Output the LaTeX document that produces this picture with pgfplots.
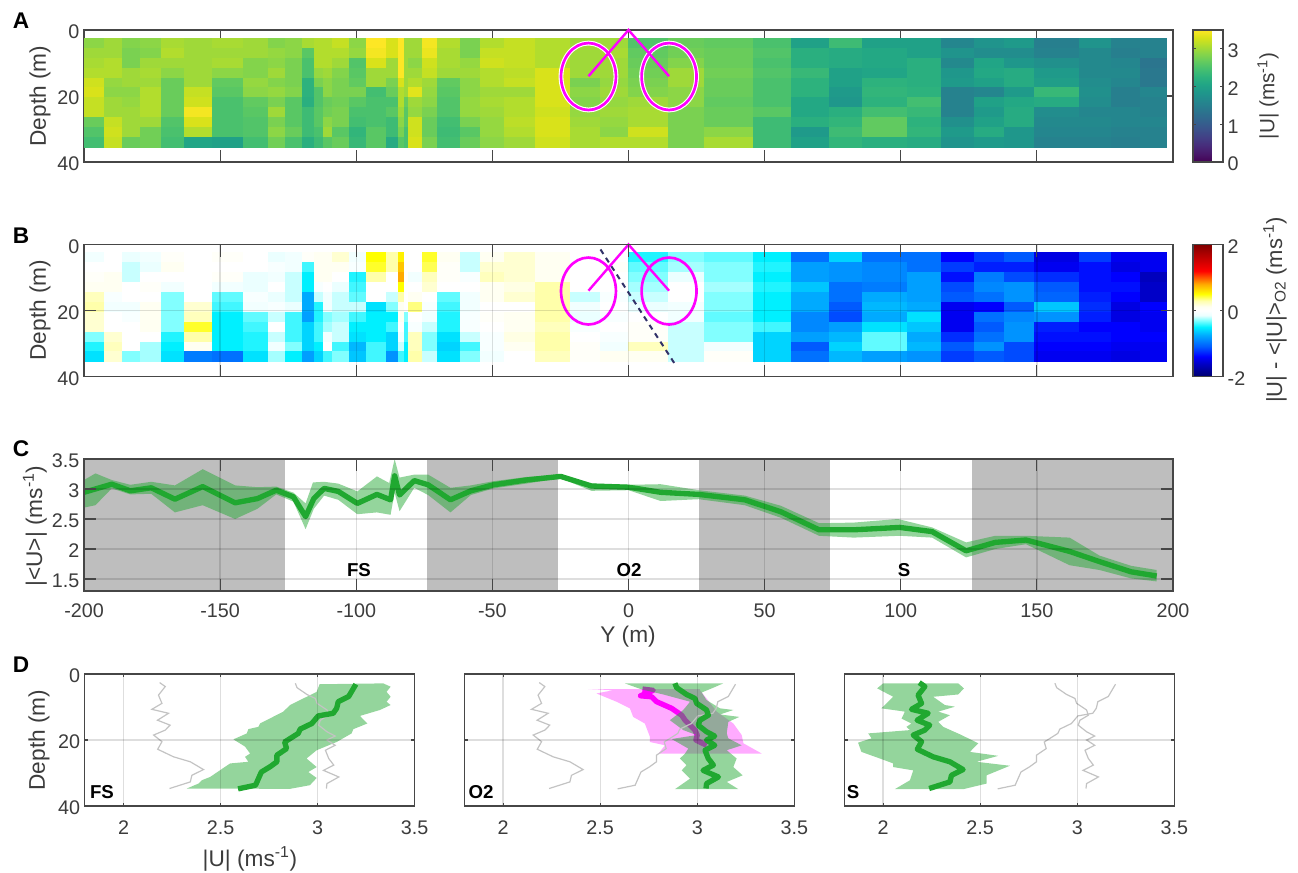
\documentclass[border=0pt]{standalone}
\usepackage{fontspec}
\setmainfont{Liberation Sans}
\usepackage{pgfplots}
\usepackage{pgfplotstable}
\pgfplotsset{compat=1.18}
\definecolor{axc}{RGB}{70,70,70}
\definecolor{tkc}{RGB}{60,60,60}
\definecolor{grn}{RGB}{32,168,48}
\definecolor{gbar}{RGB}{190,190,190}
\definecolor{gline}{RGB}{195,195,195}
\definecolor{mag}{RGB}{255,0,255}
\definecolor{navy2}{RGB}{50,50,105}
\newcommand{\tf}{\fontsize{14.8pt}{16pt}\selectfont}
\newcommand{\lf}{\fontsize{17pt}{19pt}\selectfont}
\newcommand{\pl}{\fontsize{17pt}{19pt}\selectfont\bfseries}
\newcommand{\fl}{\fontsize{14pt}{15pt}\selectfont\bfseries}
\pgfplotsset{
 fr/.style={scale only axis,anchor=south west,
  axis line style={draw=axc,line width=1.1pt},
  tick style={draw=axc,line width=.8pt},
  tick align=inside,tick pos=both,major tick length=9pt,
  tick label style={font=\tf,text=tkc},
  yticklabel style={yshift=-1.5pt},
  grid style={black,opacity=.13,line width=1pt}},
 cb/.style={colorbar,colorbar style={at={(1.01837,1)},anchor=north west,
  width=22.5pt,height=99pt,tick align=inside,major tick length=2.5pt,
  axis line style={draw=axc,line width=.8pt},tick style={draw=axc,line width=.6pt},
  tick label style={font=\tf,text=tkc},yticklabel style={yshift=-1.5pt},yticklabel pos=right,#1}},
 top/.style={width=816.75pt,height=99pt,xmin=-200,xmax=200,ymin=0,ymax=40,y dir=reverse,
  xtick={-200,-150,...,200},xticklabels={},ytick={0,20,40},yticklabels={0,20,40},clip=false},
 dp/.style={width=247.5pt,height=99pt,xmin=1.8,xmax=3.5,ymin=0,ymax=40,y dir=reverse,
  xtick={2,2.5,3,3.5},xticklabels={2,2.5,3,3.5},xticklabel style={yshift=-7.5pt},ytick={0,20,40},grid=major,major tick length=2.5pt,axis on top},
 colormap={cbwr}{rgb255(0pt)=(0,0,110);rgb255(40pt)=(0,0,200);rgb255(60pt)=(0,0,255);rgb255(90pt)=(0,90,255);rgb255(125pt)=(0,170,255);rgb255(150pt)=(0,240,255);rgb255(170pt)=(130,255,255);rgb255(185pt)=(235,255,255);rgb255(200pt)=(255,255,255);rgb255(212pt)=(255,255,240);rgb255(230pt)=(255,255,170);rgb255(250pt)=(255,255,0);rgb255(280pt)=(255,170,0);rgb255(320pt)=(255,0,0);rgb255(400pt)=(128,0,0)},
}
\pgfplotstableread{
x y u
-200 2.5 2.9
-200 5.5 3
-200 8.5 3.05
-200 11.5 3.1
-200 14.5 3.25
-200 17.5 3.3
-200 20.5 3.2
-200 23.5 3.2
-200 26.5 2.7
-200 29.5 2.55
-200 32.5 2.45
-200 35.5 0
-192.5 2.5 3
-192.5 5.5 3
-192.5 8.5 3.1
-192.5 11.5 3.1
-192.5 14.5 2.95
-192.5 17.5 2.9
-192.5 20.5 3
-192.5 23.5 3
-192.5 26.5 3.2
-192.5 29.5 3.25
-192.5 32.5 3.2
-192.5 35.5 0
-186 2.5 2.85
-186 5.5 2.8
-186 8.5 2.8
-186 11.5 3
-186 14.5 3
-186 17.5 2.9
-186 20.5 2.95
-186 23.5 3
-186 26.5 3
-186 29.5 3
-186 32.5 2.7
-186 35.5 0
-179.3 2.5 2.9
-179.3 5.5 2.85
-179.3 8.5 3
-179.3 11.5 3.05
-179.3 14.5 3
-179.3 17.5 3.1
-179.3 20.5 3.1
-179.3 23.5 3.1
-179.3 26.5 3
-179.3 29.5 2.75
-179.3 32.5 2.75
-179.3 35.5 0
-171.8 2.5 3.05
-171.8 5.5 3.1
-171.8 8.5 3
-171.8 11.5 2.9
-171.8 14.5 2.7
-171.8 17.5 2.7
-171.8 20.5 2.7
-171.8 23.5 2.7
-171.8 26.5 2.55
-171.8 29.5 2.5
-171.8 32.5 2.45
-171.8 35.5 0
-163.3 2.5 3
-163.3 5.5 3
-163.3 8.5 3
-163.3 11.5 3
-163.3 14.5 3
-163.3 17.5 3.2
-163.3 20.5 3.25
-163.3 23.5 3.45
-163.3 26.5 3.3
-163.3 29.5 3.1
-163.3 32.5 2.05
-163.3 35.5 0
-152.8 2.5 3.05
-152.8 5.5 3
-152.8 8.5 3.05
-152.8 11.5 2.9
-152.8 14.5 2.65
-152.8 17.5 2.6
-152.8 20.5 2.5
-152.8 23.5 2.5
-152.8 26.5 2.5
-152.8 29.5 2.5
-152.8 32.5 2
-152.8 35.5 0
-141.5 2.5 3
-141.5 5.5 3
-141.5 8.5 2.85
-141.5 11.5 2.85
-141.5 14.5 2.95
-141.5 17.5 2.9
-141.5 20.5 2.65
-141.5 23.5 2.6
-141.5 26.5 2.55
-141.5 29.5 2.55
-141.5 32.5 2.45
-141.5 35.5 0
-132.4 2.5 2.85
-132.4 5.5 2.95
-132.4 8.5 2.9
-132.4 11.5 3
-132.4 14.5 2.85
-132.4 17.5 2.95
-132.4 20.5 2.8
-132.4 23.5 3
-132.4 26.5 2.8
-132.4 29.5 2.9
-132.4 32.5 2.75
-132.4 35.5 0
-126.1 2.5 2.9
-126.1 5.5 2.9
-126.1 8.5 2.8
-126.1 11.5 2.8
-126.1 14.5 2.8
-126.1 17.5 2.85
-126.1 20.5 2.6
-126.1 23.5 2.6
-126.1 26.5 2.6
-126.1 29.5 2.7
-126.1 32.5 2.5
-126.1 35.5 0
-120 2.5 3.05
-120 5.5 2.6
-120 8.5 2.5
-120 11.5 2.5
-120 14.5 2.25
-120 17.5 2.25
-120 20.5 2.2
-120 23.5 2.4
-120 26.5 2.4
-120 29.5 2.4
-120 32.5 2.2
-120 35.5 0
-115.3 2.5 3.1
-115.3 5.5 3.1
-115.3 8.5 3.1
-115.3 11.5 2.95
-115.3 14.5 2.8
-115.3 17.5 2.55
-115.3 20.5 2.55
-115.3 23.5 2.6
-115.3 26.5 2.6
-115.3 29.5 2.5
-115.3 32.5 2.4
-115.3 35.5 0
-112.3 2.5 3.1
-112.3 5.5 3.1
-112.3 8.5 3.1
-112.3 11.5 3
-112.3 14.5 2.9
-112.3 17.5 2.9
-112.3 20.5 2.7
-112.3 23.5 2.75
-112.3 26.5 2.9
-112.3 29.5 3
-112.3 32.5 2.6
-112.3 35.5 0
-108.8 2.5 3.2
-108.8 5.5 3.1
-108.8 8.5 3
-108.8 11.5 2.85
-108.8 14.5 2.8
-108.8 17.5 2.8
-108.8 20.5 2.75
-108.8 23.5 2.8
-108.8 26.5 2.8
-108.8 29.5 2.6
-108.8 32.5 2.7
-108.8 35.5 0
-102.6 2.5 2.9
-102.6 5.5 2.95
-102.6 8.5 2.55
-102.6 11.5 2.6
-102.6 14.5 2.65
-102.6 17.5 2.8
-102.6 20.5 2.6
-102.6 23.5 2.5
-102.6 26.5 2.45
-102.6 29.5 2.3
-102.6 32.5 2.35
-102.6 35.5 0
-96.3 2.5 3.5
-96.3 5.5 3.45
-96.3 8.5 3.3
-96.3 11.5 3
-96.3 14.5 3
-96.3 17.5 2.45
-96.3 20.5 2.5
-96.3 23.5 2.5
-96.3 26.5 2.5
-96.3 29.5 2.6
-96.3 32.5 2.6
-96.3 35.5 0
-89 2.5 3.3
-89 5.5 3.3
-89 8.5 3
-89 11.5 3
-89 14.5 2.8
-89 17.5 2.7
-89 20.5 2.5
-89 23.5 2.6
-89 26.5 2.4
-89 29.5 2.4
-89 32.5 2.15
-89 35.5 0
-84.4 2.5 3.55
-84.4 5.5 3.7
-84.4 8.5 3.8
-84.4 11.5 3.5
-84.4 14.5 3.3
-84.4 17.5 3.1
-84.4 20.5 3.1
-84.4 23.5 3
-84.4 26.5 2.9
-84.4 29.5 2.8
-84.4 32.5 2.6
-84.4 35.5 0
-82.3 2.5 3
-82.3 5.5 3
-82.3 8.5 3
-82.3 11.5 3
-82.3 14.5 3
-82.3 17.5 3
-82.3 20.5 2.7
-82.3 23.5 2.6
-82.3 26.5 2.6
-82.3 29.5 2.5
-82.3 32.5 2.5
-82.3 35.5 0
-80.8 2.5 3
-80.8 5.5 3
-80.8 8.5 2.9
-80.8 11.5 3
-80.8 14.5 3.1
-80.8 17.5 3.35
-80.8 20.5 3
-80.8 23.5 2.95
-80.8 26.5 3.25
-80.8 29.5 3.25
-80.8 32.5 3.3
-80.8 35.5 0
-75.7 2.5 3.45
-75.7 5.5 3.4
-75.7 8.5 3.25
-75.7 11.5 3.2
-75.7 14.5 3
-75.7 17.5 2.95
-75.7 20.5 2.9
-75.7 23.5 2.8
-75.7 26.5 2.7
-75.7 29.5 2.7
-75.7 32.5 2.8
-75.7 35.5 0
-70.2 2.5 3.1
-70.2 5.5 3.05
-70.2 8.5 3.05
-70.2 11.5 3
-70.2 14.5 2.65
-70.2 17.5 2.6
-70.2 20.5 2.55
-70.2 23.5 2.55
-70.2 26.5 2.45
-70.2 29.5 2.4
-70.2 32.5 2.45
-70.2 35.5 0
-61.9 2.5 2.8
-61.9 5.5 2.8
-61.9 8.5 2.95
-61.9 11.5 3
-61.9 14.5 2.9
-61.9 17.5 2.9
-61.9 20.5 2.95
-61.9 23.5 2.95
-61.9 26.5 2.8
-61.9 29.5 2.6
-61.9 32.5 2.7
-61.9 35.5 0
-54.6 2.5 3.1
-54.6 5.5 3.2
-54.6 8.5 3.25
-54.6 11.5 3.1
-54.6 14.5 3.1
-54.6 17.5 3
-54.6 20.5 3.05
-54.6 23.5 3
-54.6 26.5 2.95
-54.6 29.5 2.95
-54.6 32.5 2.9
-54.6 35.5 0
-45.6 2.5 3.2
-45.6 5.5 3.2
-45.6 8.5 3.2
-45.6 11.5 3.15
-45.6 14.5 3.2
-45.6 17.5 3
-45.6 20.5 3.1
-45.6 23.5 3.1
-45.6 26.5 3.15
-45.6 29.5 3.1
-45.6 32.5 3
-45.6 35.5 0
-34.2 2.5 3.1
-34.2 5.5 3.1
-34.2 8.5 3.1
-34.2 11.5 3.3
-34.2 14.5 3.3
-34.2 17.5 3.3
-34.2 20.5 3.3
-34.2 23.5 3.25
-34.2 26.5 3.3
-34.2 29.5 3.3
-34.2 32.5 3.25
-34.2 35.5 0
-21.3 2.5 3
-21.3 5.5 3
-21.3 8.5 3
-21.3 11.5 3
-21.3 14.5 2.8
-21.3 17.5 2.9
-21.3 20.5 2.85
-21.3 23.5 2.95
-21.3 26.5 3
-21.3 29.5 3.05
-21.3 32.5 3.05
-21.3 35.5 0
-10.5 2.5 3
-10.5 5.5 3.05
-10.5 8.5 3
-10.5 11.5 3
-10.5 14.5 2.95
-10.5 17.5 3
-10.5 20.5 2.95
-10.5 23.5 3
-10.5 26.5 2.95
-10.5 29.5 2.9
-10.5 32.5 3.1
-10.5 35.5 0
0 2.5 2.55
0 5.5 2.65
0 8.5 2.7
0 11.5 2.75
0 14.5 2.8
0 17.5 2.85
0 20.5 3
0 23.5 3.05
0 26.5 3.05
0 29.5 3.25
0 32.5 3.1
0 35.5 0
14.6 2.5 2.7
14.6 5.5 2.75
14.6 8.5 2.85
14.6 11.5 3
14.6 14.5 3
14.6 17.5 2.9
14.6 20.5 2.9
14.6 23.5 2.8
14.6 26.5 2.8
14.6 29.5 2.8
14.6 32.5 2.8
14.6 35.5 0
27.7 2.5 2.65
27.7 5.5 2.7
27.7 8.5 2.7
27.7 11.5 2.75
27.7 14.5 2.7
27.7 17.5 2.7
27.7 20.5 2.65
27.7 23.5 2.7
27.7 26.5 2.7
27.7 29.5 2.9
27.7 32.5 3.05
27.7 35.5 0
45.8 2.5 2.5
45.8 5.5 2.55
45.8 8.5 2.5
45.8 11.5 2.55
45.8 14.5 2.5
45.8 17.5 2.5
45.8 20.5 2.5
45.8 23.5 2.6
45.8 26.5 2.4
45.8 29.5 2.4
45.8 32.5 2.4
45.8 35.5 0
59.7 2.5 2
59.7 5.5 2.2
59.7 8.5 2.2
59.7 11.5 2.35
59.7 14.5 2.25
59.7 17.5 2.25
59.7 20.5 2.1
59.7 23.5 2.1
59.7 26.5 2.2
59.7 29.5 1.9
59.7 32.5 2
59.7 35.5 0
73.7 2.5 2.4
73.7 5.5 2.15
73.7 8.5 2.15
73.7 11.5 2
73.7 14.5 2
73.7 17.5 1.9
73.7 20.5 1.85
73.7 23.5 2.2
73.7 26.5 2.3
73.7 29.5 2.4
73.7 32.5 2.3
73.7 35.5 0
86 2.5 2
86 5.5 2.1
86 8.5 2.1
86 11.5 2.05
86 14.5 2.25
86 17.5 2.3
86 20.5 2.25
86 23.5 2.45
86 26.5 2.65
86 29.5 2.65
86 32.5 2.2
86 35.5 0
102.5 2.5 2
102.5 5.5 2
102.5 8.5 2.2
102.5 11.5 2.2
102.5 14.5 2.2
102.5 17.5 2.25
102.5 20.5 2.45
102.5 23.5 2.35
102.5 26.5 2.25
102.5 29.5 2.3
102.5 32.5 2.15
102.5 35.5 0
114.8 2.5 1.6
114.8 5.5 1.8
114.8 8.5 1.65
114.8 11.5 1.85
114.8 14.5 1.9
114.8 17.5 1.55
114.8 20.5 1.55
114.8 23.5 1.55
114.8 26.5 1.75
114.8 29.5 1.9
114.8 32.5 1.8
114.8 35.5 0
127 2.5 1.8
127 5.5 1.7
127 8.5 2.05
127 11.5 2.1
127 14.5 2
127 17.5 1.6
127 20.5 2
127 23.5 1.9
127 26.5 2
127 29.5 2.15
127 32.5 1.9
127 35.5 0
138 2.5 1.9
138 5.5 1.7
138 8.5 1.85
138 11.5 2.15
138 14.5 2.15
138 17.5 1.9
138 20.5 2.1
138 23.5 2.15
138 26.5 2.15
138 29.5 1.85
138 32.5 1.85
138 35.5 0
149 2.5 1.5
149 5.5 1.55
149 8.5 1.75
149 11.5 1.9
149 14.5 1.95
149 17.5 2.35
149 20.5 2.15
149 23.5 1.7
149 26.5 1.65
149 29.5 1.6
149 32.5 1.55
149 35.5 0
165.4 2.5 1.8
165.4 5.5 1.65
165.4 8.5 1.65
165.4 11.5 1.65
165.4 14.5 1.7
165.4 17.5 1.75
165.4 20.5 1.7
165.4 23.5 1.6
165.4 26.5 1.65
165.4 29.5 1.6
165.4 32.5 1.55
165.4 35.5 0
177.2 2.5 1.55
177.2 5.5 1.5
177.2 8.5 1.6
177.2 11.5 1.65
177.2 14.5 1.6
177.2 17.5 1.5
177.2 20.5 1.5
177.2 23.5 1.6
177.2 26.5 1.6
177.2 29.5 1.55
177.2 32.5 1.5
177.2 35.5 0
188 2.5 1.55
188 5.5 1.55
188 8.5 1.35
188 11.5 1.4
188 14.5 1.4
188 17.5 1.6
188 20.5 1.55
188 23.5 1.55
188 26.5 1.6
188 29.5 1.55
188 32.5 1.55
188 35.5 0
197.4 2.5 0
197.4 5.5 0
197.4 8.5 0
197.4 11.5 0
197.4 14.5 0
197.4 17.5 0
197.4 20.5 0
197.4 23.5 0
197.4 26.5 0
197.4 29.5 0
197.4 32.5 0
197.4 35.5 0
}\heat
\pgfplotstableread{
v d
3.197 3.1
3.19 3.8
3.16 6.8
3.106 8.4
3.098 10.4
3.08 11.9
3.003 12.7
2.97 15
2.91 16.7
2.9 18
2.83 20.6
2.84 22.6
2.79 24.6
2.79 26.6
2.755 28.1
2.71 29.7
2.695 31.7
2.68 33.7
2.59 34.8
}\pfs
\pgfplotstableread{
v d
2.885 2.8
2.894 4.15
2.945 6.2
2.988 7.4
2.997 8.9
3.048 10.9
3.057 12.5
3.014 14
3.005 15.5
3.048 17.5
3.09 18.8
3.048 20
3.09 21.6
3.04 23.1
3.057 25.6
3.083 27.6
3.03 29.2
3.109 31.2
3.048 33.2
3.045 34.7
}\poo
\pgfplotstableread{
v d
2.186 2.6
2.215 3.8
2.18 6.4
2.198 8.9
2.146 10.7
2.232 11.9
2.175 14
2.24 15.5
2.215 17
2.155 18.5
2.198 20.5
2.176 22.8
2.258 25.1
2.344 26.6
2.412 28.96
2.352 30.7
2.344 32.7
2.237 34.7
}\pss
\begin{document}
\begin{tikzpicture}[x=.75pt,y=-.75pt]
\useasboundingbox (0,0) rectangle (1298,873);
\coordinate (pa) at (84,162);
\coordinate (pb) at (84,376.5);
\coordinate (pc) at (84,591);
\coordinate (d1) at (84.7,806);
\coordinate (d2) at (464.3,806);
\coordinate (d3) at (844.3,806);
% A
\begin{axis}[fr,top,at={(pa)},colormap/viridis,point meta min=0,point meta max=3.5,
 cb={ytick={0,1,2,3},yticklabels={0,1,2,3}}]
\addplot[surf,shader=flat corner,mesh/ordering=y varies,mesh/rows=12,mesh/cols=44,point meta=\thisrow{u}] table[x=x,y=y] {\heat};
\draw[white,line width=3.6pt] (axis cs:-14.7,14.1) ellipse [x radius=20.6pt,y radius=25.1pt];
\draw[white,line width=3.6pt] (axis cs:14.9,14.1) ellipse [x radius=20.6pt,y radius=25.1pt];
\draw[mag,line width=2pt] (axis cs:-14.7,14.1) ellipse [x radius=20.6pt,y radius=25.1pt];
\draw[mag,line width=2pt] (axis cs:14.9,14.1) ellipse [x radius=20.6pt,y radius=25.1pt];
\addplot[mag,line width=1.8pt] coordinates {(-14.7,14) (0,0) (14.9,14)};
\end{axis}
% B
\begin{axis}[fr,top,at={(pb)},colormap name=cbwr,point meta min=-2,point meta max=2,grid=major,axis on top,
 cb={ytick={-2,0,2},yticklabels={-2,0,2}}]
\addplot[surf,shader=flat corner,mesh/ordering=y varies,mesh/rows=12,mesh/cols=44,point meta=\thisrow{u}-3] table[x=x,y=y] {\heat};
\draw[mag,line width=2pt] (axis cs:-14.7,14.1) ellipse [x radius=20.6pt,y radius=25.1pt];
\draw[mag,line width=2pt] (axis cs:14.9,14.1) ellipse [x radius=20.6pt,y radius=25.1pt];
\addplot[navy2,line width=1.5pt,dash pattern=on 4pt off 3.5pt] coordinates {(-10.3,1.5) (17.5,36.8)};
\addplot[mag,line width=1.8pt] coordinates {(-14.7,14) (0,0) (14.9,14)};
\end{axis}
% C
\begin{axis}[fr,at={(pc)},width=816.75pt,height=99pt,xmin=-200,xmax=200,ymin=1.3,ymax=3.5,
 xtick={-200,-150,...,200},xticklabels={-200,-150,-100,-50,0,50,100,150,200},xticklabel style={yshift=-6pt},
 ytick={1.5,2,2.5,3,3.5},yticklabels={1.5,2,2.5,3,3.5},grid=major,axis on top]
\addplot[fill=gbar,draw=none] coordinates {(-200,1.3)(-126,1.3)(-126,3.5)(-200,3.5)} -- cycle;
\addplot[fill=gbar,draw=none] coordinates {(-74,1.3)(-26,1.3)(-26,3.5)(-74,3.5)} -- cycle;
\addplot[fill=gbar,draw=none] coordinates {(26,1.3)(74,1.3)(74,3.5)(26,3.5)} -- cycle;
\addplot[fill=gbar,draw=none] coordinates {(126,1.3)(200,1.3)(200,3.5)(126,3.5)} -- cycle;
\addplot[fill=grn,fill opacity=.48,draw=none] coordinates {
(-200,3.15)(-195.8,3.26)(-189.8,3.15)(-183,3.07)(-175.3,3.12)(-166.6,3.06)(-156.4,3.33)(-144.5,3.06)(-136.3,3.03)(-129.4,3.04)(-123.1,2.94)(-118.6,2.76)(-115.9,3.11)(-111.8,3.12)(-106.6,3.09)(-99.6,2.96)(-92.4,3.21)(-87.9,3.1)(-85.9,3.5)(-84.1,3.19)(-78.7,3.24)(-73.6,3.24)(-65.4,3.02)(-57.9,3.06)(-49.6,3.13)(-37.6,3.2)(-24.9,3.24)(-13.6,3.09)(0,3.07)(11.8,3.08)(25.8,2.98)(42.7,2.89)(56,2.72)(70,2.43)(82.7,2.44)(98.9,2.5)(111.5,2.36)(124,2.11)(134.7,2.22)(146,2.22)(162,2.19)(173,1.89)(184.6,1.72)(194,1.65)
(194,1.46)(184.6,1.51)(173,1.65)(162,1.73)(146,2.08)(134.7,2)(124,1.86)(111.5,2.19)(99.6,2.22)(82.7,2.19)(70,2.22)(56,2.52)(42.7,2.73)(25.8,2.83)(11.8,2.8)(0,2.98)(-13.6,2.97)(-24.9,3.18)(-37.6,3.09)(-49.6,3.01)(-57.9,2.9)(-65.4,2.61)(-73.6,2.9)(-78.7,3.02)(-84.1,2.63)(-85.9,2.94)(-87.4,2.57)(-92.4,2.61)(-99.6,2.58)(-106.6,2.82)(-111.8,2.89)(-115.6,2.67)(-118.6,2.33)(-123.1,2.79)(-129.4,2.91)(-136.3,2.67)(-144.5,2.5)(-156.4,2.73)(-166.6,2.61)(-175.3,2.92)(-183,2.91)(-189.8,3.01)(-195.8,2.73)(-200,2.69)} -- cycle;
\addplot[grn,line width=4pt,line join=round] coordinates {
(-200,2.945)(-189.8,3.08)(-183,2.97)(-175.3,3.02)(-166.6,2.83)(-156.4,3.04)(-144.5,2.77)(-136.3,2.84)(-129.4,2.98)(-123.1,2.87)(-118.6,2.54)(-115.6,2.84)(-111.8,3.01)(-106.6,2.96)(-99.6,2.76)(-92.4,2.91)(-87.4,2.82)(-85.9,3.22)(-84.1,2.9)(-78.7,3.14)(-73.6,3.07)(-65.4,2.82)(-57.9,2.97)(-49.6,3.07)(-37.6,3.15)(-24.9,3.21)(-13.6,3.05)(0,3.03)(11.8,2.945)(25.8,2.91)(42.7,2.82)(56,2.62)(70,2.32)(82.7,2.32)(99.6,2.36)(111.5,2.29)(124,1.97)(134.7,2.11)(146,2.15)(162,1.96)(173,1.79)(184.6,1.62)(194,1.55)};
\end{axis}
% D1
\begin{axis}[fr,dp,at={(d1)},yticklabels={0,20,40}]
\addplot[fill=grn,fill opacity=.48,draw=none] coordinates {
(3.01,3.1)(2.995,5.4)(2.858,9.4)(2.823,11.4)(2.703,15)(2.695,16)(2.643,16.7)(2.635,18)(2.566,19.8)(2.626,22)(2.652,24.1)(2.626,25.1)(2.643,26.6)(2.549,27.1)(2.446,31.2)(2.403,32.2)(2.386,33.2)(2.326,34.7)
(2.858,34.8)(2.96,33.7)(2.995,31.5)(2.952,29.7)(2.995,28.2)(2.943,25.6)(2.995,23.1)(3.098,20.6)(3.175,18)(3.184,16.7)(3.256,15)(3.218,12.7)(3.321,10.9)(3.376,9.4)(3.355,8.4)(3.376,6.9)(3.355,5.4)(3.376,3.85)(3.338,2.84)} -- cycle;
\addplot[gline,line width=.9pt] table[x=v,y=d] {\poo};
\addplot[gline,line width=.9pt] table[x=v,y=d] {\pss};
\addplot[grn,line width=4pt,line join=round] table[x=v,y=d] {\pfs};
\end{axis}
% D2
\begin{axis}[fr,dp,at={(d2)},yticklabels={}]
\addplot[fill=mag,fill opacity=.33,draw=none] coordinates {
(2.438,4.56)(2.567,4.9)(2.481,5.9)(2.584,8.4)(2.653,10.4)(2.67,13)(2.73,15)(2.756,19)(2.756,20.6)(2.834,21.6)(2.8,24.1)
(3.332,24.1)(3.238,21)(3.229,18.5)(3.186,15)(3.1,11.4)(3.048,7.4)(3.014,4.9)(3.014,4.56)} -- cycle;
\addplot[mag,line width=4pt,line join=round] coordinates {
(2.718,4.56)(2.773,4.96)(2.708,6.6)(2.765,6.9)(2.791,8.4)(2.868,10.4)(2.92,12.5)(2.937,14)(2.988,17)(3,18.5)(2.993,20)(3.048,21.6)};
\addplot[fill=grn,fill opacity=.48,draw=none] coordinates {
(2.627,2.84)(2.713,4.66)(2.825,6.2)(2.963,8.4)(2.928,10.9)(2.859,14)(2.928,17)(2.997,18.5)(2.868,19.7)(2.954,22.6)(2.937,24.1)(2.911,25.6)(2.945,27.6)(2.92,29.2)(2.963,31.7)(2.885,34.9)
(3.212,34.9)(3.152,32.7)(3.234,30.7)(3.186,28.2)(3.203,25.6)(3.152,23.1)(3.229,21.6)(3.16,19.5)(3.152,18)(3.16,14.5)(3.217,13)(3.117,12.25)(3.186,10.9)(3.117,10.4)(3.048,7.9)(3.023,5.6)(3.083,4.15)(3.134,2.84)} -- cycle;
\addplot[gline,line width=.9pt] table[x=v,y=d] {\pfs};
\addplot[gline,line width=.9pt] table[x=v,y=d] {\pss};
\addplot[grn,line width=4pt,line join=round] table[x=v,y=d] {\poo};
\end{axis}
% D3
\begin{axis}[fr,dp,at={(d3)},yticklabels={}]
\addplot[fill=grn,fill opacity=.48,draw=none] coordinates {
(2,2.84)(1.969,4.35)(2.052,6.9)(1.991,10.4)(2.112,11.4)(2.095,13.5)(2.146,15)(2.12,16)(2.138,17)(1.923,18)(1.94,19.5)(1.871,20.8)(1.888,23.6)(1.983,25.6)(2.052,27.1)(2.052,28.2)(2.155,29.2)(2.138,32.2)(2.06,34.9)
(2.413,34.9)(2.533,33.2)(2.533,30.7)(2.653,27.8)(2.481,26.6)(2.593,24.8)(2.447,23.6)(2.49,21)(2.404,18.5)(2.309,16)(2.284,14.5)(2.344,12.5)(2.284,11.4)(2.37,9.9)(2.318,9.4)(2.258,6.9)(2.387,6.2)(2.416,4.35)(2.387,2.84)} -- cycle;
\addplot[gline,line width=.9pt] table[x=v,y=d] {\pfs};
\addplot[gline,line width=.9pt] table[x=v,y=d] {\poo};
\addplot[grn,line width=4pt,line join=round] table[x=v,y=d] {\pss};
\end{axis}
% labels
\node[font=\pl] at (21,21) {A};
\node[font=\pl] at (21,236) {B};
\node[font=\pl] at (21,449) {C};
\node[font=\pl] at (21,665) {D};
\node[font=\lf,text=tkc,rotate=90] at (40,96) {Depth (m)};
\node[font=\lf,text=tkc,rotate=90] at (40,310) {Depth (m)};
\node[font=\lf,text=tkc,rotate=90] at (35,526) {|<U>| (ms\textsuperscript{-1})};
\node[font=\lf,text=tkc,rotate=90] at (39,740) {Depth (m)};
\node[font=\fontsize{15.5pt}{17pt}\selectfont,text=tkc,rotate=90] at (1268,96) {|U| (ms\textsuperscript{-1})};
\node[font=\fontsize{16.5pt}{18pt}\selectfont,text=tkc,rotate=90] at (1275,310) {|U| - <|U|>\textsubscript{O2} (ms\textsuperscript{-1})};
\node[font=\lf,text=tkc] at (628,637) {Y (m)};
\node[font=\lf,text=tkc] at (250,859) {|U| (ms\textsuperscript{-1})};
\node[font=\fl] at (359,570) {FS};
\node[font=\fl] at (629,570) {O2};
\node[font=\fl] at (904,570) {S};
\node[font=\fl] at (102,792) {FS};
\node[font=\fl] at (481,792) {O2};
\node[font=\fl] at (853,792) {S};
\end{tikzpicture}
\end{document}
